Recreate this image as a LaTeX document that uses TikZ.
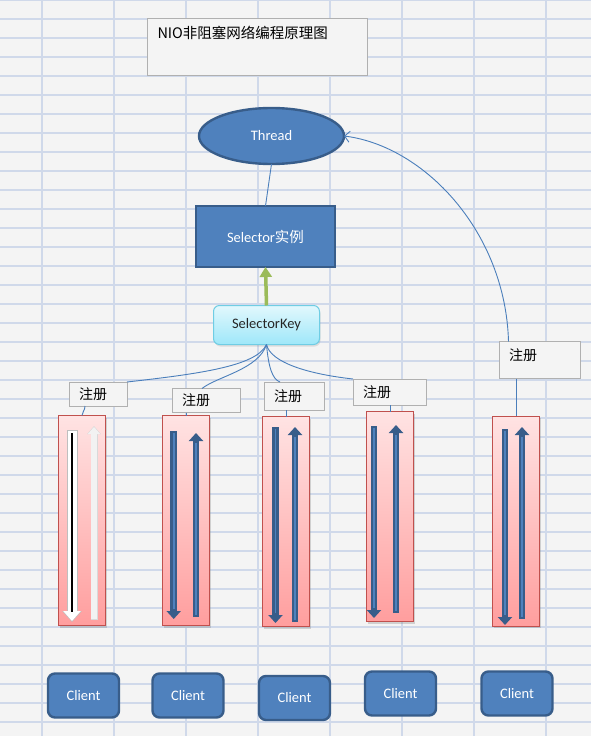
\documentclass[tikz,border=0pt]{standalone}
\usepackage{fontspec}
\setmainfont{Carlito}
\newfontfamily\cjk{Noto Sans CJK SC}
\usetikzlibrary{shapes.geometric,arrows.meta,shadows}
\definecolor{bggray}{HTML}{F4F4F4}
\definecolor{gridline}{HTML}{D0D9EA}
\definecolor{nodeblue}{HTML}{4F81BD}
\definecolor{edgeblue}{HTML}{385D8A}
\definecolor{linkblue}{HTML}{4A7EBB}
\definecolor{regline}{HTML}{B0B0B0}
\definecolor{chanred}{HTML}{C0504D}
\definecolor{chantop}{HTML}{FFE3E3}
\definecolor{chanbot}{HTML}{FF9E9E}
\definecolor{keytop}{HTML}{E2F8FD}
\definecolor{keybot}{HTML}{9EE7F9}
\definecolor{keyline}{HTML}{6FCDE4}
\definecolor{arrowgreen}{HTML}{9BBB59}
\begin{document}
\begin{tikzpicture}[x=1pt,y=-1pt,inner sep=2pt,outer sep=0pt,
    txt/.style={font=\fontsize{14.5}{17}\selectfont},
    bluebox/.style={txt,draw=edgeblue,line width=2.4pt,fill=nodeblue,text=white},
    client/.style={bluebox,rounded corners=7pt,minimum width=71pt,minimum height=44pt},
    regbox/.style={draw=regline,fill=bggray,line width=1pt,font=\cjk\fontsize{14}{17}\selectfont,
      align=left,inner xsep=10pt,inner ysep=0pt,text width=#1},
    chan/.style={draw=chanred,line width=1pt,top color=chantop,bottom color=chanbot,
      minimum width=47pt,minimum height=210pt,
      drop shadow={shadow xshift=1pt,shadow yshift=-2pt,opacity=.3}},
    link/.style={draw=linkblue,line width=.9pt},
    pipe/.style={line width=6.5pt,draw=edgeblue,-{Triangle[width=14pt,length=8pt]}},
    pipecore/.style={line width=1.6pt,draw=nodeblue}]
  % sheet
  \fill[bggray] (0,0) rectangle (591,736);
  \useasboundingbox (0,0) rectangle (591,736);
  \foreach \gx in {42,114,...,546} \draw[gridline,line width=1.1pt] (\gx,0) -- (\gx,736);
  \foreach \gy in {0,19,...,736} \draw[gridline,line width=1.1pt] (0,\gy) -- (591,\gy);

  % title
  \node[draw=regline,fill=bggray,line width=1pt,minimum width=220pt,minimum height=57pt] (title) at (257.5,47) {};
  \node[anchor=west,font=\cjk\fontsize{14.5}{17}\selectfont] (titletext) at ([shift={(8,14)}]title.north west) {NIO非阻塞网络编程原理图};

  % server side
  \node[bluebox,ellipse,minimum width=145pt,minimum height=56pt] (thread) at (271.5,136) {Thread};
  \node[bluebox,minimum width=139pt,minimum height=61pt] (selector) at (265.5,236.5) {Selector{\cjk 实例}};
  \node[txt,draw=keyline,line width=1pt,top color=keytop,bottom color=keybot,rounded corners=6pt,
    minimum width=106pt,minimum height=39pt,text=black!85,
    drop shadow={shadow xshift=1pt,shadow yshift=-2pt,opacity=.2}] (key) at (266.5,325) {SelectorKey};

  % registrations
  \node[regbox=38pt,minimum height=24pt] (reg1) at (98,394) {注册};
  \node[regbox=48pt,minimum height=24pt] (reg2) at (206,400.5) {注册};
  \node[regbox=40pt,minimum height=28pt] (reg3) at (294,396) {注册};
  \node[regbox=53pt,minimum height=26pt] (reg4) at (389.5,392) {注册};
  \node[regbox=61pt,minimum height=37pt,text depth=11pt] (reg5) at (539.5,360) {注册};

  % channels
  \node[chan] (c1) at (82,520.5) {};
  \node[chan] (c2) at (186,520.5) {};
  \node[chan] (c3) at (286,521.5) {};
  \node[chan] (c4) at (390,516.5) {};
  \node[chan] (c5) at (516,521) {};

  % clients
  \node[client] (cl1) at (83.5,695.5) {Client};
  \node[client] (cl2) at (188,695.5) {Client};
  \node[client] (cl3) at (294.5,698) {Client};
  \node[client] (cl4) at (400.5,693.5) {Client};
  \node[client] (cl5) at (517,693.5) {Client};

  % links
  \draw[link] (thread.south) -- (selector.north);
  \draw[line width=3.5pt,arrowgreen,-{Triangle[width=12pt,length=10pt]}] (key.north) -- (selector.south);
  \draw[link] (key.south) .. controls +(-10,22) and +(70,-8) .. (reg1.north east);
  \draw[link] (key.south) .. controls +(-8,25) and +(15,-12) .. ([xshift=-4]reg2.north);
  \draw[link] (key.south) .. controls +(2,22) and +(-8,-3) .. ([xshift=-14]reg3.north);
  \draw[link] (key.south) .. controls +(4,18) and +(-45,-5) .. (reg4.north west);
  \draw[link,{Straight Barb[length=5pt,width=11pt]}-] (thread.east) .. controls +(80,10) and +(-3,-110) .. ([xshift=-31]reg5.north);
  \draw[link] ([xshift=-13]reg1.south) .. controls +(0,5) and +(0,-4) .. (c1.north);
  \draw[link] (c2.north |- reg2.south) -- (c2.north);
  \draw[link] (c3.north |- reg3.south) -- (c3.north);
  \draw[link] (c4.north |- reg4.south) -- (c4.north);
  \draw[link] (c5.north |- reg5.south) -- (c5.north);

  % read / write inside the channels
  \draw[line width=11pt,black!25,-{Triangle[width=19pt,length=11pt]}] (72,430) -- (72,622);
  \draw[line width=9pt,white,-{Triangle[width=17pt,length=10pt]}] (72,431) -- (72,621);
  \draw[line width=2.5pt,black] (72,433) -- (72,612);
  \draw[line width=7pt,black!15,-{Triangle[width=13pt,length=8pt]}] (94,620) -- (94,426);
  \draw[line width=6pt,black!5,-{Triangle[width=12pt,length=7pt]}] (94,619) -- (94,427);
  \foreach \dx/\dt/\db/\ux/\ut/\ub in {173.7/431/619/196/433/617,275.5/427/623/295/427/622,
      374/426/618/396/425/613,505/429/625/522/427/619}{
    \draw[pipe] (\dx,\dt) -- (\dx,\db);
    \draw[pipecore] (\dx,\dt+2) -- (\dx,\db-10);
    \draw[pipe] (\ux,\ub) -- (\ux,\ut);
    \draw[pipecore] (\ux,\ub-2) -- (\ux,\ut+10);
  }
\end{tikzpicture}
\end{document}
